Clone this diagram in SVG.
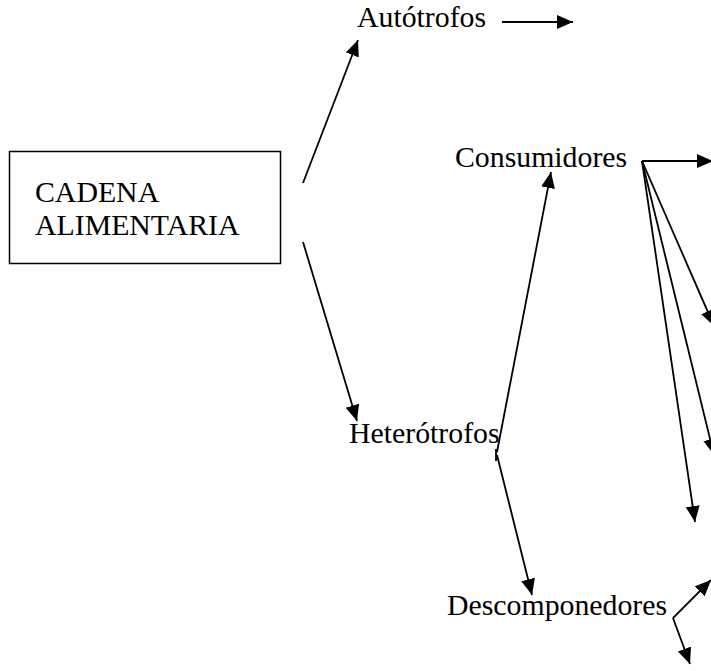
<svg xmlns="http://www.w3.org/2000/svg" width="711" height="671" viewBox="0 0 711 671">
<defs>
<marker id="ah" markerWidth="18" markerHeight="16" refX="16" refY="7" orient="auto" markerUnits="userSpaceOnUse">
<path d="M0,0 L16,7 L0,14 Z" fill="#000"/>
</marker>
<style>
.t{font-family:"Liberation Serif","Times New Roman",serif;font-size:29.8px;fill:#000}
.c{stroke:#000;stroke-width:1.8;fill:none}
.a{marker-end:url(#ah)}
</style>
</defs>
<rect width="711" height="671" fill="#fff"/>
<g id="cadena">
<rect x="9.5" y="151.5" width="271" height="112" fill="#fff" stroke="#000" stroke-width="1.5"/>
<text class="t" x="35" y="202">CADENA</text>
<text class="t" x="35" y="235">ALIMENTARIA</text>
</g>
<g id="autotrofos"><text class="t" x="357" y="27">Autótrofos</text></g>
<g id="consumidores"><text class="t" x="455" y="167">Consumidores</text></g>
<g id="heterotrofos"><text class="t" x="349" y="443">Heterótrofos</text></g>
<g id="descomponedores"><text class="t" x="447" y="615">Descomponedores</text></g>
<g id="connectors">
<line class="c a" x1="303" y1="183" x2="358" y2="40"/>
<line class="c a" x1="303" y1="242" x2="357" y2="421"/>
<line class="c a" x1="502" y1="22" x2="573" y2="22"/>
<line class="c a" x1="497" y1="452" x2="551" y2="172"/>
<line class="c" x1="496" y1="449" x2="496" y2="461"/>
<line class="c a" x1="497" y1="455" x2="532" y2="595"/>
<line class="c a" x1="642" y1="161" x2="713" y2="161"/>
<line class="c a" x1="642" y1="161" x2="714" y2="326"/>
<line class="c a" x1="642" y1="161" x2="714" y2="455"/>
<line class="c a" x1="642" y1="161" x2="695" y2="522"/>
<line class="c a" x1="673" y1="618" x2="711" y2="580"/>
<line class="c a" x1="673" y1="618" x2="690" y2="664"/>
</g>
</svg>
